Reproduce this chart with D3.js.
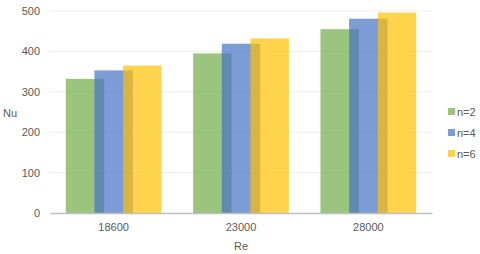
<!DOCTYPE html>
<html>
<head>
<meta charset="utf-8">
<script src="https://cdn.jsdelivr.net/npm/d3@7"></script>
<style>
  body { margin: 0; background: #fff; }
  text { font-family: "Liberation Sans", Arial, sans-serif; fill: #595959; }
</style>
</head>
<body>
<div id="chart"></div>
<script>
var categories = ["18600", "23000", "28000"];
var seriesNames = ["n=2", "n=4", "n=6"];
var seriesColors = ["#70AD47", "#4472C4", "#FFC000"];
var valuesN2 = [332, 395, 455];
var valuesN4 = [353, 419, 481];
var valuesN6 = [365, 432, 496];
var yTicks = [0, 100, 200, 300, 400, 500];

var allValues = [valuesN2, valuesN4, valuesN6];

var width = 480, height = 254;
var margin = { left: 50, right: 48, top: 11, bottom: 41 };
var plotW = width - margin.left - margin.right;
var plotH = height - margin.top - margin.bottom;

var svg = d3.select("#chart").append("svg")
    .attr("width", width)
    .attr("height", height);

var g = svg.append("g")
    .attr("transform", "translate(" + margin.left + "," + margin.top + ")");

var x0 = d3.scaleBand().domain(categories).range([0, plotW]).padding(0);
var band = x0.bandwidth();
var barW = band * 0.302;
var shift = band * 0.225;
var x1 = d3.scalePoint().domain(seriesNames).range([0, shift * 2]);
var groupW = shift * 2 + barW;

var y = d3.scaleLinear().domain([0, 500]).range([plotH, 0]);

// gridlines
g.append("g").selectAll("line")
    .data(yTicks.slice(1))
    .enter().append("line")
    .attr("x1", 0).attr("x2", plotW)
    .attr("y1", function (d) { return y(d); })
    .attr("y2", function (d) { return y(d); })
    .attr("stroke", "#EDEDED")
    .attr("stroke-width", 1);

// y tick labels
var yAxis = d3.axisLeft(y).tickValues(yTicks).tickSize(0).tickPadding(10);
var ya = g.append("g").call(yAxis);
ya.select(".domain").remove();
ya.selectAll("text").style("font-size", "11px").attr("fill", "#595959");

// bars
seriesNames.forEach(function (s, i) {
    g.append("g").selectAll("rect")
        .data(allValues[i])
        .enter().append("rect")
        .attr("x", function (d, j) { return x0(categories[j]) + (band - groupW) / 2 + x1(s); })
        .attr("y", function (d) { return y(d); })
        .attr("width", barW)
        .attr("height", function (d) { return plotH - y(d); })
        .attr("fill", seriesColors[i])
        .attr("fill-opacity", 0.7);
});

// x axis
var xAxis = d3.axisBottom(x0).tickSize(0).tickPadding(10);
var xa = g.append("g").attr("transform", "translate(0," + plotH + ")").call(xAxis);
xa.select(".domain").attr("stroke", "#BFBFBF").attr("stroke-width", 1.5);
xa.selectAll("text").style("font-size", "11px").attr("fill", "#595959");

// axis titles
svg.append("text")
    .attr("x", margin.left + plotW / 2)
    .attr("y", 250)
    .attr("text-anchor", "middle")
    .style("font-size", "11px")
    .text("Re");

svg.append("text")
    .attr("x", 3)
    .attr("y", 117)
    .style("font-size", "11px")
    .text("Nu");

// legend
var legend = svg.append("g").attr("transform", "translate(448,108)");
seriesNames.forEach(function (s, i) {
    var row = legend.append("g").attr("transform", "translate(0," + (i * 21) + ")");
    row.append("rect")
        .attr("width", 7).attr("height", 7)
        .attr("fill", seriesColors[i])
        .attr("fill-opacity", 0.7);
    row.append("text")
        .attr("x", 9).attr("y", 7.5)
        .style("font-size", "11px")
        .text(s);
});
</script>
</body>
</html>
